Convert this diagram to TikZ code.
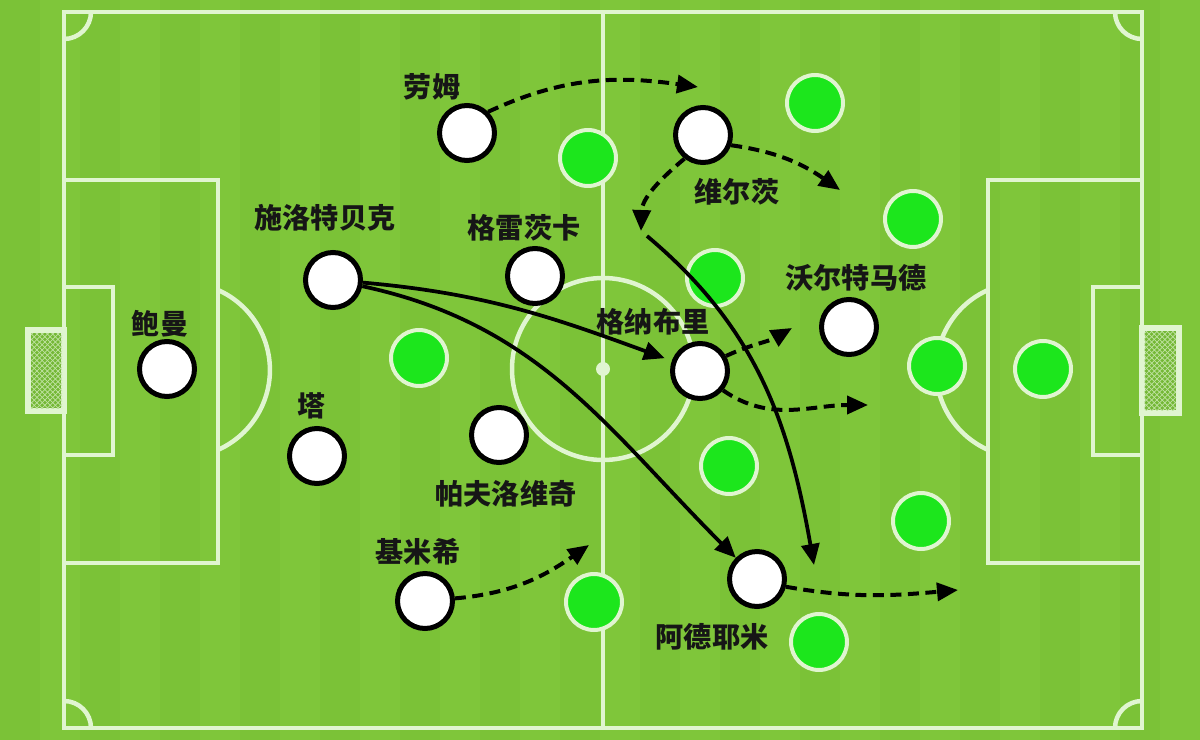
\documentclass[tikz,border=0pt]{standalone}
\usepackage{fontspec}
\newfontfamily\cjk{Noto Sans CJK SC}
\usetikzlibrary{arrows.meta, patterns}

\definecolor{grass}{HTML}{7FC63A}
\definecolor{grassdark}{HTML}{7BC237}
\definecolor{netgreen}{HTML}{74B836}
\definecolor{chalk}{HTML}{E0F5D0}
\definecolor{oppgreen}{HTML}{1CE61C}
\definecolor{ink}{HTML}{161616}

\begin{document}
\begin{tikzpicture}[
   x=0.02cm, y=0.02cm,
   -{Triangle[length=0.42cm, width=0.36cm]},
   chalkline/.style = {draw=chalk, line width=0.09cm, -},
   player/.style = {circle, draw=black, line width=0.1cm, fill=white, minimum size=1.1cm, inner sep=0pt},
   opponent/.style = {circle, draw=chalk, line width=0.08cm, fill=oppgreen, minimum size=1.12cm, inner sep=0pt},
   tag/.style = {font=\cjk\bfseries\fontsize{16}{19}\selectfont, text=ink, inner sep=0pt},
   pass/.style = {line width=0.075cm},
   run/.style = {line width=0.08cm, dash pattern=on 0.22cm off 0.13cm}]

   % grass
   \fill[grass] (0,0) rectangle (1200,-740);
   \foreach \x in {0,80,...,1160}
      \fill[grassdark] (\x,0) rectangle +(40,-740);

   % pitch
   \draw[chalkline] (64,-12) rectangle (1142,-728);
   \draw[chalkline] (603,-12) -- (603,-728);
   \draw[chalkline] (603,-369) circle (91);
   \fill[chalk] (603,-369) circle (7);
   \draw[chalkline] (64,-180) rectangle (218,-563);
   \draw[chalkline] (64,-287) rectangle (113,-455);
   \draw[chalkline] (988,-180) rectangle (1142,-563);
   \draw[chalkline] (1093,-287) rectangle (1142,-455);
   \draw[chalkline] (218,-290) arc[start angle=66, end angle=-66, radius=87.5];
   \draw[chalkline] (988,-290) arc[start angle=114, end angle=246, radius=87.5];
   \draw[chalkline] (91,-12) arc[start angle=0, end angle=-90, radius=27];
   \draw[chalkline] (64,-701) arc[start angle=90, end angle=0, radius=27];
   \draw[chalkline] (1115,-12) arc[start angle=180, end angle=270, radius=27];
   \draw[chalkline] (1142,-701) arc[start angle=90, end angle=180, radius=27];

   % goals
   \draw[chalkline, line width=0.12cm, fill=netgreen] (28,-330) rectangle (64,-411);
   \fill[pattern=north east lines, pattern color=chalk!70!netgreen] (31,-333) rectangle (62,-408);
   \fill[pattern=north west lines, pattern color=chalk!70!netgreen] (31,-333) rectangle (62,-408);
   \draw[chalkline, line width=0.12cm, fill=netgreen] (1142,-328) rectangle (1179,-413);
   \fill[pattern=north east lines, pattern color=chalk!70!netgreen] (1144,-331) rectangle (1176,-410);
   \fill[pattern=north west lines, pattern color=chalk!70!netgreen] (1144,-331) rectangle (1176,-410);

   % opponents
   \node[opponent] (o1) at (588,-158) {};
   \node[opponent] (o2) at (815,-103) {};
   \node[opponent] (o3) at (913,-219) {};
   \node[opponent] (o4) at (715,-278) {};
   \node[opponent] (o5) at (419,-358) {};
   \node[opponent] (o6) at (937,-366) {};
   \node[opponent] (o7) at (1043,-369) {};
   \node[opponent] (o8) at (729,-466) {};
   \node[opponent] (o9) at (921,-521) {};
   \node[opponent] (o10) at (594,-602) {};
   \node[opponent] (o11) at (819,-642) {};

   % players
   \node[player] (raum) at (467,-133) {};
   \node[player] (schl) at (333,-280) {};
   \node[player] (gore) at (535,-276) {};
   \node[player] (baum) at (167,-369) {};
   \node[player] (tah) at (317,-456) {};
   \node[player] (pavl) at (499,-435) {};
   \node[player] (kimm) at (425,-601) {};
   \node[player] (wirtz) at (703,-135) {};
   \node[player] (gnab) at (700,-371) {};
   \node[player] (wolt) at (849,-327) {};
   \node[player] (adey) at (757,-579) {};

   % names
   \node[tag] (raumtag) at (432,-87) {劳姆};
   \node[tag] (schltag) at (325,-218) {施洛特贝克};
   \node[tag] (goretag) at (524,-228) {格雷茨卡};
   \node[tag] (baumtag) at (160,-324) {鲍曼};
   \node[tag] (tahtag) at (312,-406) {塔};
   \node[tag] (pavltag) at (506,-494) {帕夫洛维奇};
   \node[tag] (kimmtag) at (418,-552) {基米希};
   \node[tag] (wirtztag) at (737,-192) {维尔茨};
   \node[tag] (gnabtag) at (653,-322) {格纳布里};
   \node[tag] (wolttag) at (856,-278) {沃尔特马德};
   \node[tag] (adeytag) at (712,-637) {阿德耶米};

   % runs and passes
   \coordinate (raumend) at (698,-87);
   \coordinate (wirtzend) at (840,-190);
   \coordinate (wirtzdrop) at (641,-231);
   \coordinate (dropstart) at (647,-236);
   \coordinate (dropend) at (814,-565);
   \coordinate (gnabup) at (792,-328);
   \coordinate (gnabend) at (868,-405);
   \coordinate (kimmend) at (589,-545);
   \coordinate (adeyend) at (958,-590);

   \draw[run] (raum.45) to[out=25, in=172] (raumend);
   \draw[run] (wirtz.-20) to[out=-8, in=145] (wirtzend);
   \draw[run] (wirtz.232) to[out=220, in=88] (wirtzdrop);
   \draw[pass] (dropstart) to[out=-40, in=100] (dropend);
   \draw[pass, shorten >=0.15cm] (schl.-5) to[out=-5, in=160] (gnab);
   \draw[pass] (schl.-12) to[out=-12, in=135] (adey);
   \draw[run] (gnab.30) to[out=25, in=210] (gnabup);
   \draw[run] (gnab.-40) to[out=-35, in=180] (gnabend);
   \draw[run] (kimm.5) to[out=5, in=215] (kimmend);
   \draw[run] (adey.-15) to[out=-10, in=185] (adeyend);
\end{tikzpicture}
\end{document}
